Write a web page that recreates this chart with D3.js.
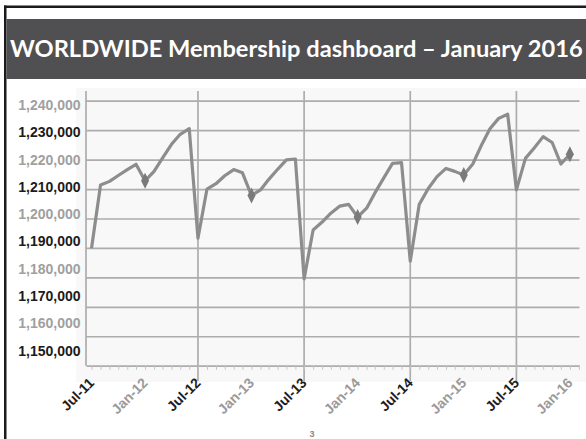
<!DOCTYPE html>
<html>
<head>
<meta charset="utf-8">
<script src="https://cdn.jsdelivr.net/npm/d3@7/dist/d3.min.js"></script>
<style>
  html, body { margin: 0; padding: 0; background: #ffffff; }
  svg { display: block; }
</style>
</head>
<body>
<svg id="chart" width="586" height="439"></svg>
<script>
// Monthly membership, one array per fiscal year (July to June)
const fy2012 = [1189900, 1211400, 1212600, 1214600, 1216600, 1218400, 1212800, 1216000, 1220500, 1225200, 1228600, 1230500];
const fy2013 = [1193300, 1210000, 1211800, 1214500, 1216600, 1215500, 1207800, 1209700, 1213200, 1216700, 1219900, 1220200];
const fy2014 = [1179500, 1196100, 1198800, 1201800, 1204200, 1204800, 1200500, 1203500, 1208600, 1213800, 1218700, 1219000];
const fy2015 = [1185500, 1204800, 1210200, 1214200, 1217000, 1216000, 1214800, 1218500, 1224500, 1230500, 1234000, 1235400];
const fy2016 = [1209700, 1220400, 1224000, 1227800, 1225800, 1218500, 1221800];

const firstMonth = new Date(2011, 6, 1);   // Jul-11
const lastMonth  = new Date(2016, 0, 1);   // Jan-16

const yTicks = [1240000, 1230000, 1220000, 1210000, 1200000, 1190000, 1180000, 1170000, 1160000, 1150000];
const xTickDates = [new Date(2011,6,1), new Date(2012,0,1), new Date(2012,6,1), new Date(2013,0,1), new Date(2013,6,1),
                    new Date(2014,0,1), new Date(2014,6,1), new Date(2015,0,1), new Date(2015,6,1), new Date(2016,0,1)];
const xTickLabels = ["Jul-11", "Jan-12", "Jul-12", "Jan-13", "Jul-13", "Jan-14", "Jul-14", "Jan-15", "Jul-15", "Jan-16"];
const title = "WORLDWIDE Membership dashboard \u2013 January 2016";
const pageNumber = "3";

const values = [].concat(fy2012, fy2013, fy2014, fy2015, fy2016);
const months = d3.timeMonth.range(firstMonth, d3.timeMonth.offset(lastMonth, 1));
const series = months.map((d, i) => ({ date: d, value: values[i] }));
const janPoints = series.filter(d => d.date.getMonth() === 0);

const svg = d3.select("#chart");
const W = 586, H = 439;

// slide frame
svg.append("rect").attr("x", 0).attr("y", 0).attr("width", W).attr("height", H).attr("fill", "#ffffff");
svg.append("rect").attr("x", 4).attr("y", 5.5).attr("width", W - 4).attr("height", 2.5).attr("fill", "#1b1b1b");
svg.append("rect").attr("x", 4).attr("y", 5.5).attr("width", 2.5).attr("height", H - 5.5).attr("fill", "#1b1b1b");

// title bar
svg.append("rect").attr("x", 6.5).attr("y", 19).attr("width", W - 6.5).attr("height", 60).attr("fill", "#505052");
const titleText = svg.append("text")
  .attr("x", 10).attr("y", 57)
  .attr("fill", "#ffffff")
  .attr("font-family", "Lato, 'Open Sans', sans-serif")
  .attr("font-weight", "bold")
  .attr("font-size", 22)
  .text(title);
const tw = titleText.node().getComputedTextLength();
titleText.attr("font-size", 22 * 573 / tw);

// plot area
const plotLeft = 86, plotRight = 579.5, plotTop = 100.7, plotBottom = 365.7;
svg.append("rect").attr("x", 76).attr("y", 88).attr("width", W - 76).attr("height", 294).attr("fill", "#f8f8f8");

const x = d3.scaleTime()
  .domain([new Date(2011, 5, 12), new Date(2016, 1, 3)])
  .range([plotLeft, plotRight]);
const y = d3.scaleLinear()
  .domain([1150000, 1240000])
  .range([plotBottom, plotTop]);
// tick labels sit on their own, slightly tighter spacing
const yLabel = d3.scaleLinear()
  .domain([1150000, 1240000])
  .range([350.7, 105]);

const gridColor = "#adadad";

// horizontal grid lines
const gy = svg.append("g").attr("transform", `translate(${plotLeft},0)`)
  .call(d3.axisLeft(y).tickValues(yTicks.filter(v => v > 1150000)).tickSize(-(plotRight - plotLeft)).tickFormat(""));
gy.select(".domain").remove();
gy.selectAll(".tick line").attr("stroke", gridColor).attr("stroke-width", 1.7);

// vertical grid lines at each July
const julys = xTickDates.filter(d => d.getMonth() === 6 && d > firstMonth);
svg.append("g").selectAll("line").data(julys).join("line")
  .attr("x1", d => x(d)).attr("x2", d => x(d))
  .attr("y1", 91).attr("y2", 381)
  .attr("stroke", gridColor).attr("stroke-width", 1.7);

// y axis line
svg.append("line").attr("x1", plotLeft).attr("x2", plotLeft).attr("y1", 91).attr("y2", plotBottom)
  .attr("stroke", gridColor).attr("stroke-width", 1.7);

// x axis with monthly minor ticks
const gx = svg.append("g").attr("transform", `translate(0,${plotBottom})`)
  .call(d3.axisBottom(x).ticks(d3.timeMonth.every(1)).tickSize(4).tickFormat("").tickSizeOuter(0));
gx.select(".domain").attr("stroke", gridColor).attr("stroke-width", 1.7);
gx.selectAll(".tick line").attr("stroke", "#c4c4c4").attr("stroke-width", 1);

// x tick labels
const gxl = svg.append("g").attr("transform", `translate(0,${plotBottom})`)
  .call(d3.axisBottom(x).tickValues(xTickDates).tickSize(0).tickFormat((d, i) => xTickLabels[i]));
gxl.select(".domain").remove();
gxl.selectAll(".tick text")
  .attr("font-family", "'Liberation Sans', Arial, sans-serif")
  .attr("font-weight", "bold")
  .attr("font-size", 14)
  .attr("fill", (d, i) => i % 2 === 0 ? "#1e1e1e" : "#9a9a9a")
  .attr("text-anchor", "end")
  .attr("y", 0).attr("dy", 0)
  .attr("transform", "translate(3,18) rotate(-45)");

// y tick labels
const gyl = svg.append("g").attr("transform", "translate(80.5,0)")
  .call(d3.axisLeft(yLabel).tickValues(yTicks).tickSize(0).tickPadding(0).tickFormat(d3.format(",")));
gyl.select(".domain").remove();
gyl.selectAll(".tick text")
  .attr("font-family", "'Liberation Sans', Arial, sans-serif")
  .attr("font-weight", "bold")
  .attr("font-size", 14)
  .attr("fill", (d, i) => i % 2 === 0 ? "#a0a0a0" : "#1b1b1b");

// membership line
const line = d3.line().x(d => x(d.date)).y(d => y(d.value));
svg.append("path").datum(series)
  .attr("d", line)
  .attr("fill", "none")
  .attr("stroke", "#8d8d8d")
  .attr("stroke-width", 3.2)
  .attr("stroke-linejoin", "round");

// January markers
svg.append("g").selectAll("path").data(janPoints).join("path")
  .attr("transform", d => `translate(${x(d.date)},${y(d.value)})`)
  .attr("d", "M0,-8L4,0L0,8L-4,0Z")
  .attr("fill", "#7a7a7a");

// page number
svg.append("text").attr("x", 312).attr("y", 437)
  .attr("text-anchor", "middle")
  .attr("font-family", "'Liberation Sans', Arial, sans-serif")
  .attr("font-weight", "bold")
  .attr("font-size", 9)
  .attr("fill", "#8a8a8a")
  .text(pageNumber);
</script>
</body>
</html>
